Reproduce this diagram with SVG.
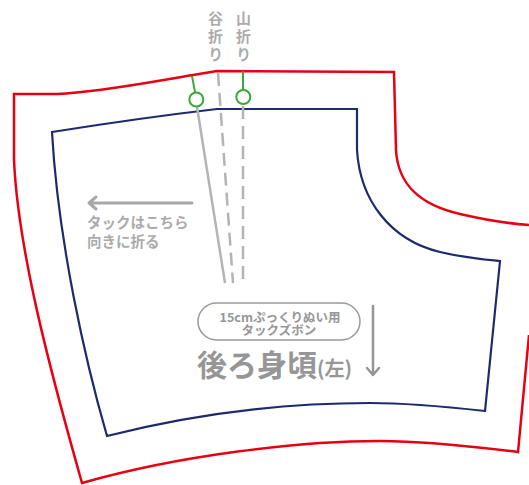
<svg xmlns="http://www.w3.org/2000/svg" width="529" height="485" viewBox="0 0 529 485">
<style>
.red{fill:none;stroke:#e60012;stroke-width:2.5;stroke-linejoin:miter}
.blue{fill:none;stroke:#1d2a6e;stroke-width:2.2;stroke-linejoin:miter}
.green{fill:none;stroke:#3aaa35;stroke-width:2}
.gl{fill:none;stroke:#b4b4b4;stroke-width:2.5}
.dash{stroke-dasharray:13 7}
.lbl{font-family:"Noto Sans CJK JP","Noto Sans",sans-serif;font-weight:bold;fill:#ababab}
.vert{writing-mode:vertical-rl;letter-spacing:3px}
.ttl{font-family:"Noto Sans CJK JP","Noto Sans",sans-serif;font-weight:bold;fill:#969696}
.arr{fill:none;stroke:#a8a8a8;stroke-width:3;stroke-linecap:round;stroke-linejoin:round}
</style>
<rect width="529" height="485" fill="#fff"/>
<g id="cut-line">
<path class="red" d="M529,335 L518,452 C470,446 420,441 380,441 C300,441 180,455 82,483 C50,370 18,250 14,160 L14,94 L57,94 C100,92 150,82 193,75 L217,71 L394,72 L396,150 C398,185 420,205 460,214 C490,221 515,224 529,225"/>
</g>
<g id="seam-line">
<path class="blue" d="M52,132 Q140,118 217,109 L357,109 L357,150 C360,200 390,240 440,252 C465,258 490,260 500,261 L485,411 C440,406 400,403 370,403 C280,403 190,415 107,436 C85,360 58,240 52,132 Z"/>
</g>
<g id="fold-lines">
<path class="gl" d="M197,107 L225,283"/>
<path class="gl dash" d="M218,73 L233,283"/>
<path class="gl dash" d="M243,106 L243,283"/>
</g>
<g id="marks">
<path class="green" d="M192,76 L195,92"/>
<circle class="green" cx="196.3" cy="99.5" r="7"/>
<path class="green" d="M243,71 L243,90"/>
<circle class="green" cx="243.3" cy="97" r="7"/>
</g>
<g id="fold-labels">
<text class="lbl vert" font-size="15" x="215.5" y="11">谷折り</text>
<text class="lbl vert" font-size="15" x="243.5" y="11">山折り</text>
</g>
<g id="tuck-note">
<path class="arr" d="M192,203 L89,203 M96,197 L89,203 L96,209"/>
<text class="lbl" font-size="14.5"><tspan x="87" y="228">タックはこちら</tspan><tspan x="87" y="246.5">向きに折る</tspan></text>
</g>
<g id="title">
<rect x="198" y="303" width="162" height="37" rx="18.5" ry="18.5" fill="#fff" stroke="#999" stroke-width="1.5"/>
<text class="ttl" font-size="12.5" text-anchor="middle"><tspan x="280" y="321.5">15cmぷっくりぬい用</tspan><tspan x="279" y="334.5">タックズボン</tspan></text>
<text class="ttl" x="197" y="376"><tspan font-size="30">後ろ身頃</tspan><tspan font-size="20">(左)</tspan></text>
<path d="M373,306 L373,375 M367,368 L373,375 L379,368" fill="none" stroke="#969696" stroke-width="2.5" stroke-linecap="round" stroke-linejoin="round"/>
</g>
</svg>
